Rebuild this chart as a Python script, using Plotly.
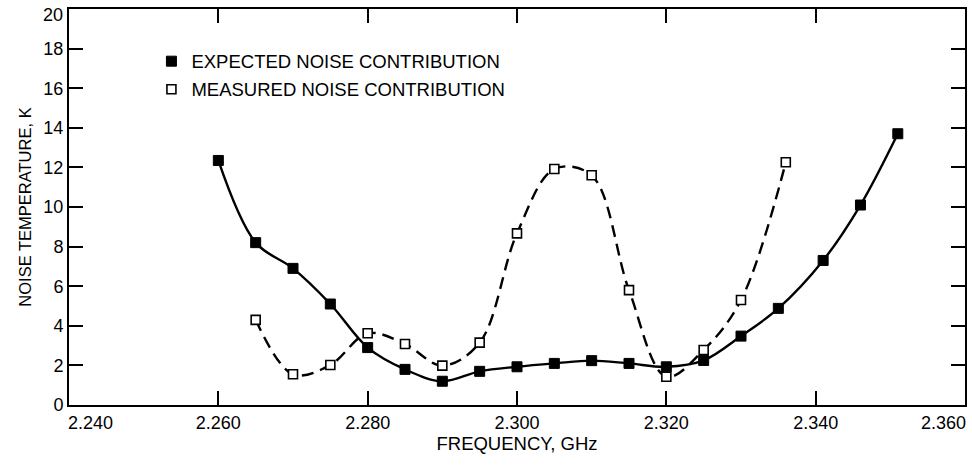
import plotly.graph_objects as go

# Data
freq_expected = [2.260, 2.265, 2.270, 2.275, 2.280, 2.285, 2.290, 2.295, 2.300,
                 2.305, 2.310, 2.315, 2.320, 2.325, 2.330, 2.335, 2.341, 2.346, 2.351]
expected = [12.35, 8.2, 6.9, 5.1, 2.9, 1.8, 1.2, 1.7, 1.93,
            2.1, 2.24, 2.1, 1.93, 2.25, 3.48, 4.88, 7.3, 10.1, 13.7]

freq_measured = [2.265, 2.270, 2.275, 2.280, 2.285, 2.290, 2.295, 2.300,
                 2.305, 2.310, 2.315, 2.320, 2.325, 2.330, 2.336]
measured = [4.3, 1.55, 2.02, 3.62, 3.08, 1.99, 3.15, 8.67,
            11.92, 11.6, 5.8, 1.43, 2.78, 5.3, 12.26]

x_ticks = [2.240, 2.260, 2.280, 2.300, 2.320, 2.340, 2.360]
y_ticks = [0, 2, 4, 6, 8, 10, 12, 14, 16, 18, 20]

FONT = "Liberation Sans, Arial, Helvetica, sans-serif"
TICK_SIZE = 18

fig = go.Figure()

fig.add_trace(go.Scatter(
    x=freq_expected, y=expected, mode="lines",
    line=dict(color="black", width=2.4, shape="spline", smoothing=1.0),
    showlegend=False, hoverinfo="skip"))
fig.add_trace(go.Scatter(
    x=freq_measured, y=measured, mode="lines",
    line=dict(color="black", width=2.4, shape="spline", smoothing=1.0, dash="12px,7px"),
    showlegend=False, hoverinfo="skip"))

fig.add_trace(go.Scatter(
    x=freq_expected, y=expected, mode="markers",
    name="EXPECTED NOISE CONTRIBUTION", legendgroup="a",
    marker=dict(symbol="square", size=10, color="black", line=dict(color="black", width=1))))
fig.add_trace(go.Scatter(
    x=freq_measured, y=measured, mode="markers",
    name="MEASURED NOISE CONTRIBUTION", legendgroup="b",
    marker=dict(symbol="square", size=9, color="white", line=dict(color="black", width=1.6))))

axis_common = dict(
    showline=True, linecolor="black", linewidth=2, mirror="ticks",
    ticks="inside", ticklen=14, tickwidth=1.5, tickcolor="black",
    showgrid=False, zeroline=False, automargin=False,
    tickfont=dict(family=FONT, size=TICK_SIZE, color="black"),
)

# Edge tick labels (first/last) are placed as annotations so they stay inside the page,
# as in the reference where they are nudged inward.
x_text = [f"{v:.3f}" for v in x_ticks]
x_ticktext = [""] + x_text[1:-1] + [""]
y_ticktext = [str(v) for v in y_ticks[:-1]] + [""]

fig.update_xaxes(range=[2.240, 2.360], tickvals=x_ticks, ticktext=x_ticktext,
                 title=dict(text="FREQUENCY, GHz", font=dict(family=FONT, size=18.5, color="black"), standoff=4),
                 **axis_common)
fig.update_yaxes(range=[0, 20], tickvals=y_ticks, ticktext=y_ticktext,
                 title=dict(text="NOISE TEMPERATURE, K", font=dict(family=FONT, size=16.5, color="black"), standoff=8),
                 **axis_common)

tick_font = dict(family=FONT, size=TICK_SIZE, color="black")
fig.add_annotation(x=x_ticks[0], y=0, xref="x", yref="paper", text=x_text[0],
                   showarrow=False, xanchor="left", yanchor="top", yshift=-6, xshift=-3, font=tick_font)
fig.add_annotation(x=x_ticks[-1], y=0, xref="x", yref="paper", text=x_text[-1],
                   showarrow=False, xanchor="right", yanchor="top", yshift=-6, xshift=3, font=tick_font)
fig.add_annotation(x=0, y=y_ticks[-1], xref="paper", yref="y", text=str(y_ticks[-1]),
                   showarrow=False, xanchor="right", yanchor="top", xshift=-4, yshift=6, font=tick_font)

fig.update_layout(
    width=972, height=466,
    margin=dict(l=69, r=7, t=9, b=61, autoexpand=False),
    paper_bgcolor="white", plot_bgcolor="white",
    font=dict(family=FONT, color="black"),
    legend=dict(x=0.092, y=0.915, xanchor="left", yanchor="top",
                bgcolor="rgba(0,0,0,0)", traceorder="grouped", tracegroupgap=1,
                font=dict(family=FONT, size=18.5, color="black"), itemwidth=30),
)

fig.write_html("out.html", config={"displayModeBar": False},
               post_script="document.body.style.margin='0';document.body.style.overflow='hidden';")
